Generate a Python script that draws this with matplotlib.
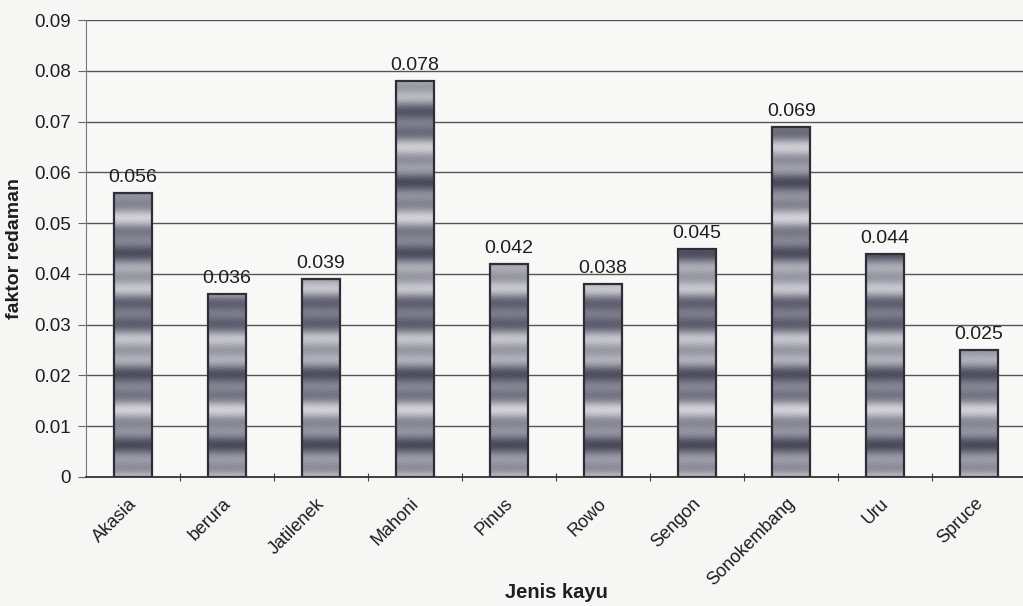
import numpy as np
import matplotlib
matplotlib.use("Agg")
import matplotlib.pyplot as plt
from matplotlib.colors import LinearSegmentedColormap
from matplotlib.transforms import ScaledTranslation

plt.rcParams['font.family'] = ['Liberation Sans', 'DejaVu Sans']

# data
jenis = ['Akasia', 'berura', 'Jatilenek', 'Mahoni', 'Pinus', 'Rowo',
         'Sengon', 'Sonokembang', 'Uru', 'Spruce']
redaman = [0.056, 0.036, 0.039, 0.078, 0.042, 0.038, 0.045, 0.069, 0.044, 0.025]
yticks = [0, 0.01, 0.02, 0.03, 0.04, 0.05, 0.06, 0.07, 0.08, 0.09]

fig = plt.figure(figsize=(10.23, 6.06), dpi=100)
fig.patch.set_facecolor('#f6f6f4')
ax = fig.add_axes([0.0841, 0.2129, 0.919, 0.754])
ax.set_facecolor('#f8f8f7')

x = np.arange(len(jenis))
bars = ax.bar(x, redaman, width=0.41, facecolor='none',
              edgecolor='#2e2e36', linewidth=1.6, zorder=3)

# isi batang: pola pita abu-abu bergaris dengan sedikit butiran
yy = np.linspace(0, 0.09, 900)[:, None]
xx = np.linspace(0, 1, 40)[None, :]
pita = 0.5 + 0.26 * np.cos(2 * np.pi * yy / 0.0128) + 0.16 * np.cos(2 * np.pi * yy / 0.0047 + 1.1)
butir = 0.08 * np.sin(xx * 173.0 + yy * 9100.0) * np.cos(xx * 61.0 - yy * 23300.0)
tekstur = np.clip(pita + butir, 0, 1)
cmap = LinearSegmentedColormap.from_list('abu', ['#3e3e50', '#8a8a98', '#dedee2'])
for b in bars:
    im = ax.imshow(tekstur, cmap=cmap, aspect='auto', origin='lower',
                   extent=[b.get_x(), b.get_x() + b.get_width(), 0, 0.09],
                   vmin=0, vmax=1, zorder=2, interpolation='bilinear')
    im.set_clip_path(b)

for xi, v in zip(x, redaman):
    ax.annotate(f'{v:.3f}', (xi, v), xytext=(0, 5), textcoords='offset points',
                ha='center', va='bottom', fontsize=14, color='#1e1e1e', zorder=4)

ax.set_xlim(-0.5, 9.5)
ax.set_ylim(0, 0.09)
ax.set_yticks(yticks)
ax.set_yticklabels(['0'] + [f'{t:.2f}' for t in yticks[1:]], fontsize=13.5, color='#1e1e1e')
ax.yaxis.grid(True, color='#555555', linewidth=1.0)
ax.set_axisbelow(True)

ax.set_xticks(x + 0.5, minor=False)
ax.set_xticklabels([])
ax.set_xticks(x, minor=True)
ax.set_xticklabels(jenis, minor=True, rotation=45, ha='right',
                   rotation_mode='anchor', fontsize=13, color='#1e1e1e')
ax.tick_params(axis='x', which='minor', length=0, pad=13)
ax.tick_params(axis='x', which='major', length=6, color='#444444', direction='inout')
ax.tick_params(axis='y', length=6, color='#666666', pad=5)

# geser label kategori sedikit ke kiri
geser = ScaledTranslation(-5 / 100, 0, fig.dpi_scale_trans)
for lbl in ax.get_xticklabels(minor=True):
    lbl.set_transform(lbl.get_transform() + geser)

for s in ['top', 'right']:
    ax.spines[s].set_visible(False)
ax.spines['left'].set_color('#777777')
ax.spines['bottom'].set_color('#333333')
ax.spines['bottom'].set_linewidth(1.3)

ax.set_ylabel('faktor redaman', fontsize=14, fontweight='bold', labelpad=8, color='#1e1e1e')
ax.set_xlabel('Jenis kayu', fontsize=14.5, fontweight='bold', color='#1e1e1e')
ax.xaxis.set_label_coords(0.5, -0.232)

fig.savefig('out.png', dpi=100, facecolor=fig.get_facecolor())
